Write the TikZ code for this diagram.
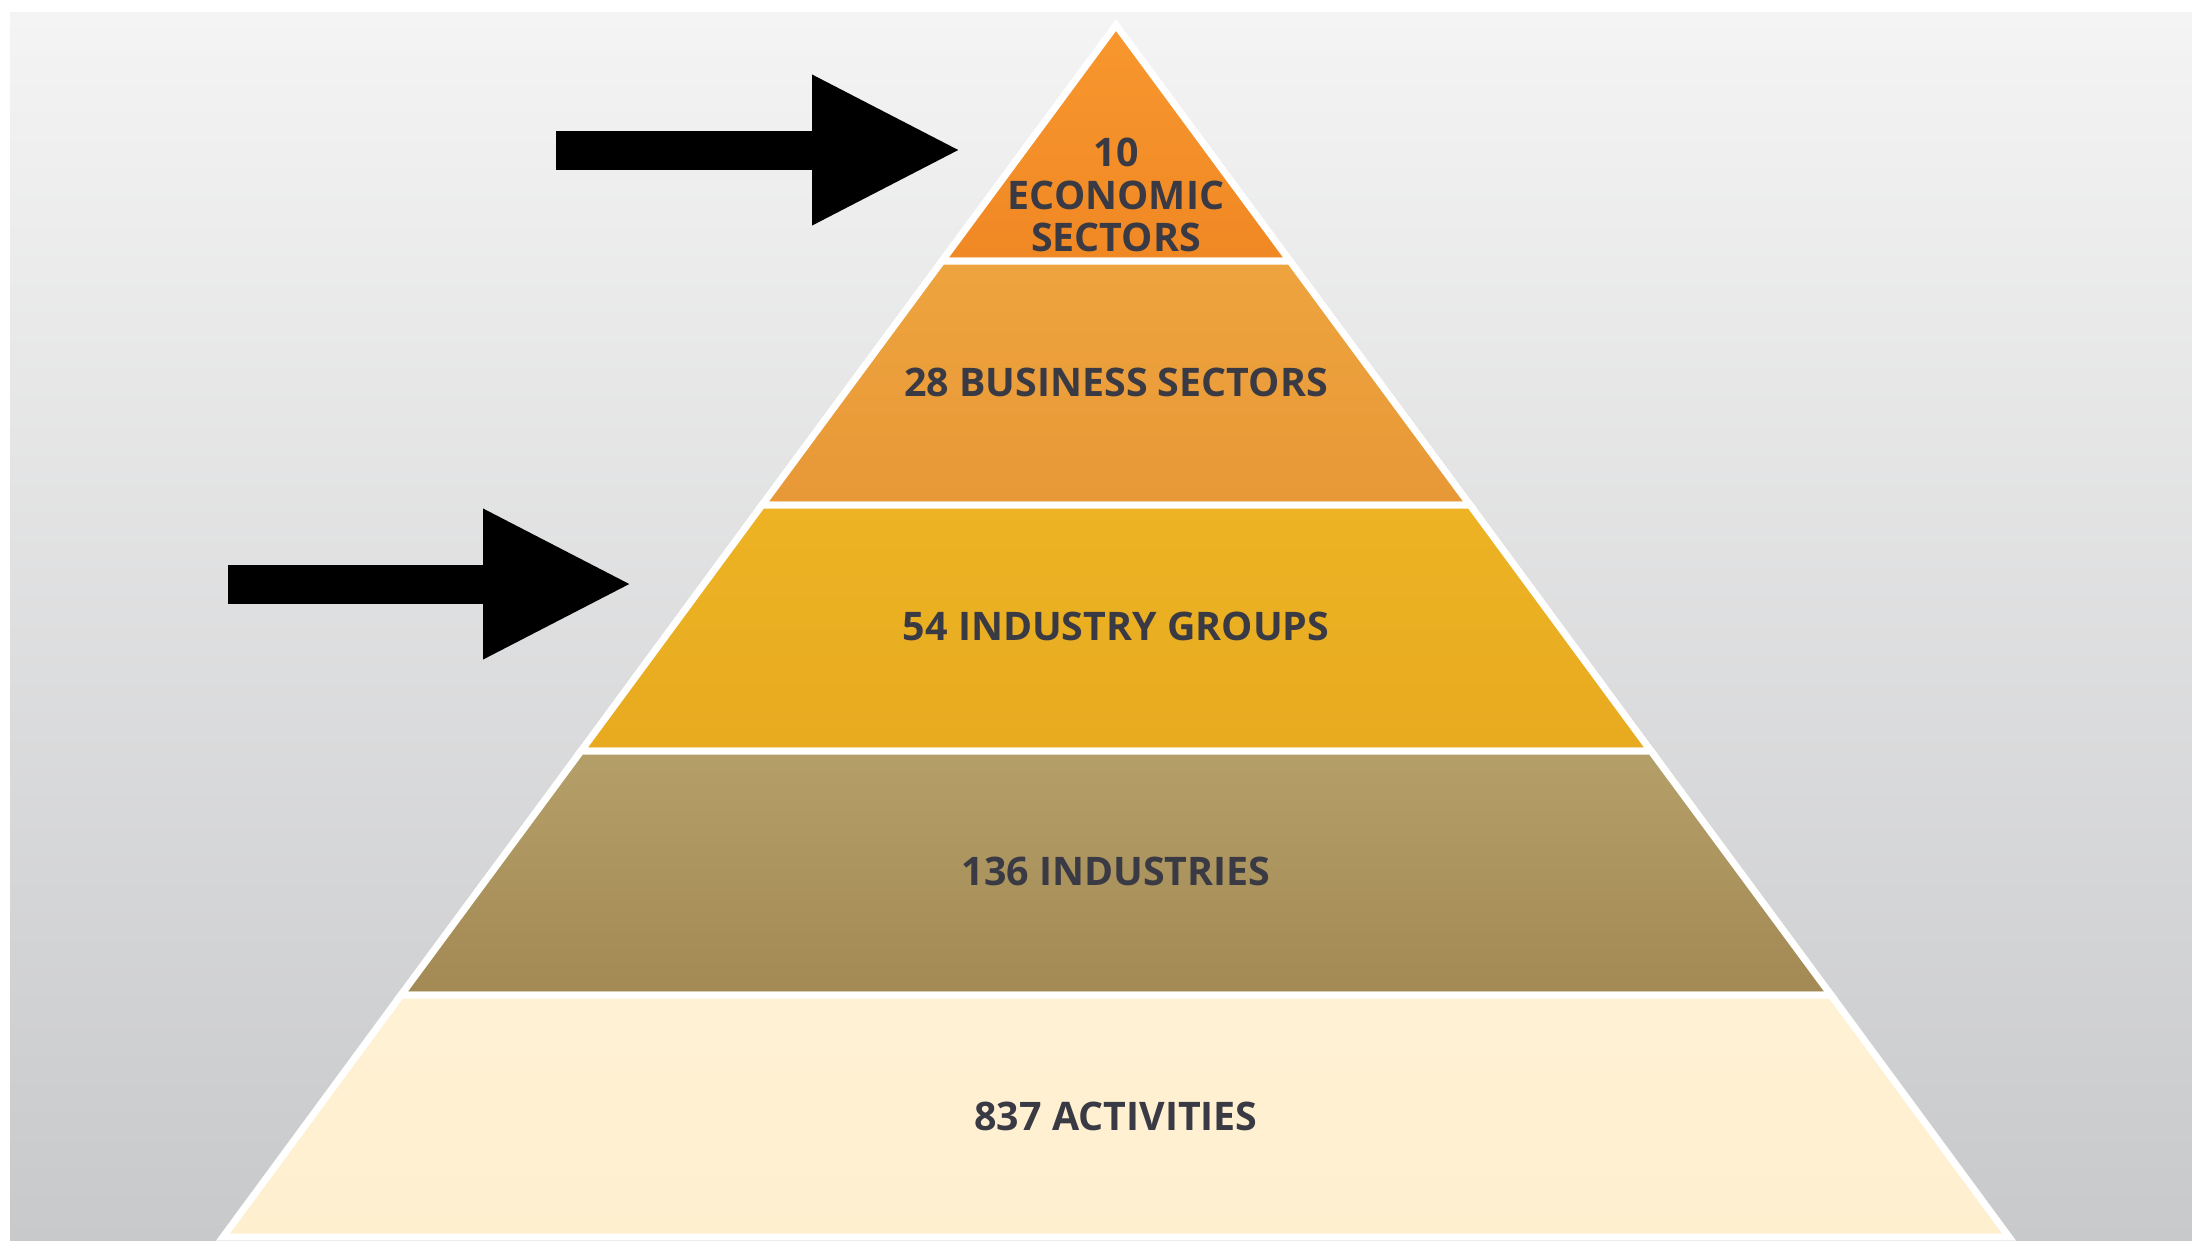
\documentclass[tikz,border=0pt]{standalone}
\usepackage{fontspec}
\setmainfont{Open Sans}
\usetikzlibrary{arrows.meta}
\definecolor{bgtop}{RGB}{244,244,244}
\definecolor{bgbottom}{RGB}{200,201,203}
\definecolor{textgrey}{RGB}{58,58,68}
\definecolor{econtop}{RGB}{248,151,46}
\definecolor{econbottom}{RGB}{240,136,36}
\definecolor{bustop}{RGB}{238,164,62}
\definecolor{busbottom}{RGB}{232,152,55}
\definecolor{grptop}{RGB}{237,179,36}
\definecolor{grpbottom}{RGB}{232,170,32}
\definecolor{indtop}{RGB}{181,159,105}
\definecolor{indbottom}{RGB}{163,137,83}
\definecolor{acttop}{RGB}{255,241,212}
\definecolor{actbottom}{RGB}{254,239,207}
\begin{document}
\begin{tikzpicture}[
    tier/.style={draw=white, line width=2pt, line join=miter},
    tierlabel/.style={align=center, text=textgrey, font=\bfseries\fontsize{11.2}{12.2}\selectfont},
    pointer/.style={line width=0.39cm, -{Triangle[length=1.50cm, width=1.39cm]}}
  ]
    \useasboundingbox (0,0) rectangle (21.92,-12.40);
    \fill[white] (0,0) rectangle (21.92,-12.40);
    \shade[top color=bgtop, bottom color=bgbottom] (0.10,-0.12) rectangle (21.92,-12.40);

    % pyramid tiers
    \shade[tier, top color=econtop, bottom color=econbottom] (11.16,-0.25) -- (12.90,-2.61) -- (9.42,-2.61) -- cycle;
    \shade[tier, top color=bustop, bottom color=busbottom] (9.42,-2.61) -- (12.90,-2.61) -- (14.70,-5.05) -- (7.62,-5.05) -- cycle;
    \shade[tier, top color=grptop, bottom color=grpbottom] (7.62,-5.05) -- (14.70,-5.05) -- (16.51,-7.51) -- (5.81,-7.51) -- cycle;
    \shade[tier, top color=indtop, bottom color=indbottom] (5.81,-7.51) -- (16.51,-7.51) -- (18.31,-9.95) -- (4.01,-9.95) -- cycle;
    \shade[tier, top color=acttop, bottom color=actbottom] (4.01,-9.95) -- (18.31,-9.95) -- (20.09,-12.37) -- (2.23,-12.37) -- cycle;

    \node[tierlabel] (econ) at (11.16,-1.95) {10\\ECONOMIC\\SECTORS};
    \node[tierlabel] (bus) at (11.16,-3.82) {28 BUSINESS SECTORS};
    \node[tierlabel] (grp) at (11.16,-6.26) {54 INDUSTRY GROUPS};
    \node[tierlabel] (ind) at (11.16,-8.71) {136 INDUSTRIES};
    \node[tierlabel] (act) at (11.16,-11.16) {837 ACTIVITIES};

    % arrows
    \coordinate (econtail) at (5.56,-1.50);
    \coordinate (econtip) at (9.62,-1.50);
    \coordinate (grptail) at (2.28,-5.84);
    \coordinate (grptip) at (6.33,-5.84);
    \draw[pointer] (econtail) -- (econtip);
    \draw[pointer] (grptail) -- (grptip);
\end{tikzpicture}
\end{document}
